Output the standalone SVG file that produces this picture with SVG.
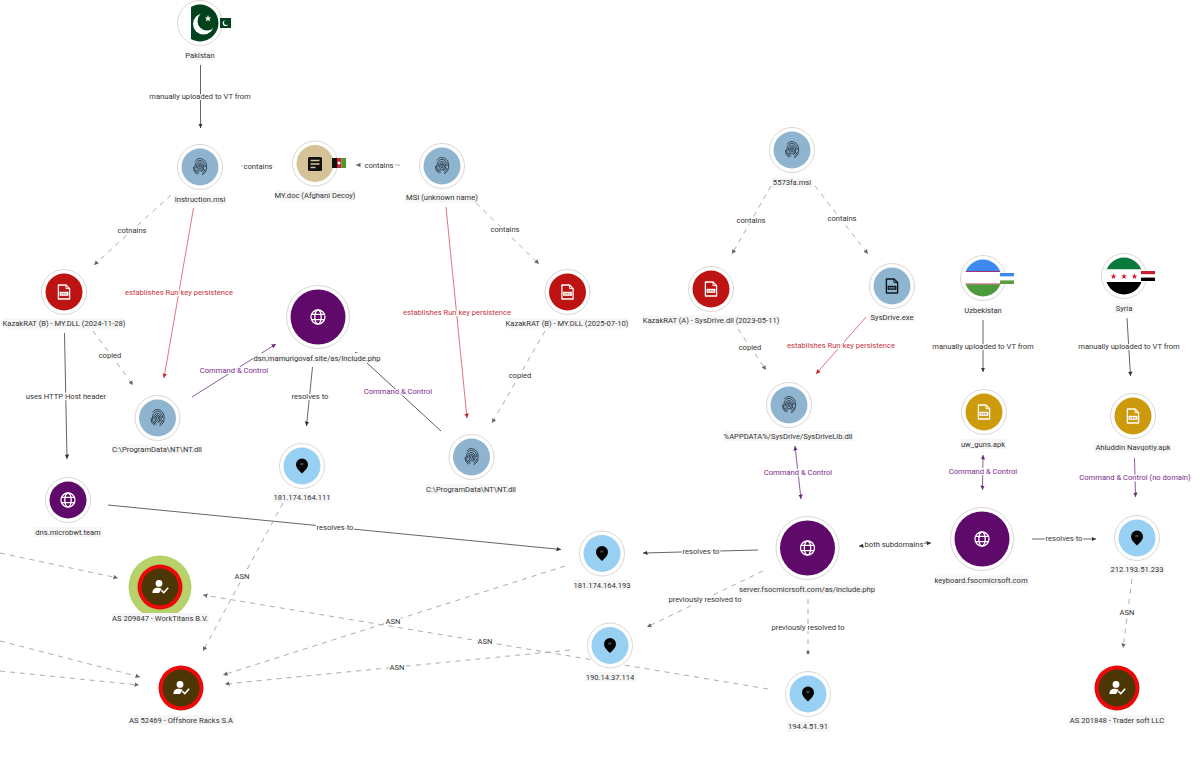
<svg xmlns="http://www.w3.org/2000/svg" width="1200" height="763" viewBox="0 0 1200 763">
<style>
text{font-family:Roboto,"Liberation Sans",sans-serif;font-size:7.6px;text-anchor:middle;fill:#333}
.ring{fill:#fff;stroke:#ddd6d6;stroke-width:1}
.lb{fill:#f6f6f6}
.e{fill:none;stroke-width:1}
.s{stroke:#666;marker-end:url(#ad)}
.d{stroke:#adadad;stroke-dasharray:5 5;marker-end:url(#ag)}
.r{stroke:#e0767e;marker-end:url(#ar)}
.p{stroke:#8a5f98;marker-end:url(#ap)}
.pp{stroke:#8a5f98;marker-end:url(#ap);marker-start:url(#ap)}
.ss{stroke:#666;marker-end:url(#ad);marker-start:url(#ad)}
.el{paint-order:stroke;stroke:#fff;stroke-width:2.4px;stroke-linejoin:round}
.red{fill:#c8323c}
.pur{fill:#7b2a8c}
.fp{fill:none;stroke:#15202b;stroke-width:.75}
.gl{fill:none;stroke:#fff;stroke-width:1.3}
</style>
<defs>
<marker id="ad" markerWidth="6" markerHeight="6" refX="4.500" refY="2.500" orient="auto-start-reverse" markerUnits="userSpaceOnUse"><path d="M0 .3L4.500 2.500L0 4.700z" fill="#333"/></marker>
<marker id="ag" markerWidth="6" markerHeight="6" refX="4.500" refY="2.500" orient="auto-start-reverse" markerUnits="userSpaceOnUse"><path d="M0 .3L4.500 2.500L0 4.700z" fill="#666"/></marker>
<marker id="ar" markerWidth="6" markerHeight="6" refX="4.500" refY="2.500" orient="auto-start-reverse" markerUnits="userSpaceOnUse"><path d="M0 .3L4.500 2.500L0 4.700z" fill="#c8202c"/></marker>
<marker id="ap" markerWidth="6" markerHeight="6" refX="4.500" refY="2.500" orient="auto-start-reverse" markerUnits="userSpaceOnUse"><path d="M0 .3L4.500 2.500L0 4.700z" fill="#6e2a80"/></marker>
<g id="fp" class="fp">
<path d="M-5 -5.600A6.600 8 0 0 1 6.600 0A6.600 8 0 0 1 2 7.700M-3 7.400A6.600 8 0 0 1 -6.600 0"/>
<path d="M5.200 0A5.200 6.600 0 0 0 -5.200 0V2.600A5.200 6.600 0 0 0 -1 6.400M2.200 6.200A5.200 6.600 0 0 0 5.200 2"/>
<path d="M-3.800 1A3.800 5 0 0 1 3.800 0A3.800 5 0 0 1 1.200 4.800M-1.400 4.800A3.800 5 0 0 1 -3.800 2.600"/>
<path d="M-2.400 .5A2.400 3.400 0 1 1 2.400 .5A2.400 3.400 0 0 1 -2.400 .5"/>
<path d="M-1 .2A1 1.800 0 1 1 1 .2A1 1.800 0 0 1 -1 .2"/>
</g>
<g id="gl" class="gl">
<circle r="7"/><ellipse rx="3.200" ry="7"/><path d="M-6.400 -2.600H6.400M-6.400 2.600H6.400"/>
</g>
<g id="pin"><path d="M0 7.600C-2 5-6 2.600-6-1.600A6 6 0 0 1 6-1.600C6 2.600 2 5 0 7.600z" fill="#050505"/><rect x="-1.800" y="-3" width="3.200" height="2" fill="#3c4a50"/></g>
<g id="usr" fill="#fff">
<circle cx="-1" cy="-3.600" r="3.400"/>
<path d="M-7.600 6C-7.400 2-5.500 .6-1.400 .8C.2 .9 1 1.400 1.600 2L-1 6z"/>
<path d="M1.400 3.400L3.800 5.600L8.200 .8" fill="none" stroke="#fff" stroke-width="1.600"/>
</g>
<g id="doc-w">
<path d="M-5.600 -7H2L5.600 -3.400V7H-5.600z" fill="none" stroke="#fff" stroke-width="1.300" stroke-linejoin="round"/>
<path d="M2 -7V-3.400H5.600" fill="none" stroke="#fff" stroke-width="1"/>
<rect x="-4.400" y="-.2" width="8.800" height="4" fill="#fff"/>
<path d="M-3.200 1.800H3.200" stroke="#c9764a" stroke-width="1.200" stroke-dasharray="1.600 .6"/>
</g>
<g id="doc-k">
<path d="M-5.600 -7H2L5.600 -3.400V7H-5.600z" fill="none" stroke="#0c1620" stroke-width="1.400" stroke-linejoin="round"/>
<path d="M2 -7V-3.400H5.600" fill="none" stroke="#0c1620" stroke-width="1"/>
<rect x="-4.400" y="-.2" width="8.800" height="4" fill="#0c1620"/>
<path d="M-3.200 1.800H3.200" stroke="#8fb4cf" stroke-width="1.200" stroke-dasharray="1.600 .6"/>
</g>
<clipPath id="cc"><circle r="18.500"/></clipPath>
</defs>
<rect width="1200" height="763" fill="#fff"/>

<g id="connectors">
<path class="e s" d="M200.500 65V128"/>
<path class="e d" d="M241 166H274" style="marker-end:none"/>
<path class="e d" d="M400 165H356"/>
<path class="e d" d="M171 195L94 265"/>
<path class="e r" d="M193.500 208L164 378"/>
<path class="e d" d="M93 331L133 385"/>
<path class="e s" d="M64.500 333L67 459"/>
<path class="e p" d="M192 397L276 344"/>
<path class="e s" d="M312.500 367L306.500 426"/>
<path class="e p" d="M441 431L355 352" style="stroke:#6a5272"/>
<path class="e r" d="M446 207L467 418"/>
<path class="e d" d="M476 203L539 264"/>
<path class="e d" d="M545 331L492 423"/>
<path class="e d" d="M771 186L732 254"/>
<path class="e d" d="M815 186L868 254"/>
<path class="e d" d="M738 329L766 370"/>
<path class="e r" d="M866 317L816 374"/>
<path class="e pp" d="M795 446L801 499"/>
<path class="e s" d="M983 320V372"/>
<path class="e s" d="M1127 318L1130.500 376"/>
<path class="e pp" d="M983 455L982.500 490"/>
<path class="e p" d="M1134.500 458L1135.500 497"/>
<path class="e s" d="M758 550L643 553"/>
<path class="e s" d="M108 505L561 549.500"/>
<path class="e ss" d="M859 546L931 543"/>
<path class="e s" d="M1032 539H1096"/>
<path class="e d" d="M1132 579L1123 648"/>
<path class="e d" d="M763 571L647 627"/>
<path class="e d" d="M808 599V655"/>
<path class="e d" d="M283 503L203 651"/>
<path class="e d" d="M565 566L223 675"/>
<path class="e d" d="M570 650L225 684"/>
<path class="e d" d="M768 689L203 595"/>
<path class="e d" d="M0 553L118 578"/>
<path class="e d" d="M0 641L140 677"/>
<path class="e d" d="M0 671L139 685"/>
</g>

<g id="edge-labels">
<text class="el" x="200" y="98.700">manually uploaded to VT from</text>
<text class="el" x="258" y="168.700">contains</text>
<text class="el" x="379" y="167.700">contains</text>
<text class="el" x="132" y="232.700">cotnains</text>
<text class="el red" x="179" y="294.700">establishes Run key persistence</text>
<text class="el" x="110" y="357.700">copied</text>
<text class="el" x="66" y="398.700">uses HTTP Host header</text>
<text class="el pur" x="234" y="372.700">Command &amp; Control</text>
<text class="el" x="310" y="398.700">resolves to</text>
<text class="el pur" x="398" y="393.700">Command &amp; Control</text>
<text class="el red" x="457" y="314.700">establishes Run key persistence</text>
<text class="el" x="505" y="231.700">contains</text>
<text class="el" x="520" y="377.700">copied</text>
<text class="el" x="751" y="222.700">contains</text>
<text class="el" x="842" y="220.700">contains</text>
<text class="el" x="750" y="349.700">copied</text>
<text class="el red" x="841" y="347.700">establishes Run key persistence</text>
<text class="el pur" x="798" y="474.700">Command &amp; Control</text>
<text class="el" x="983" y="348.700">manually uploaded to VT from</text>
<text class="el" x="1129" y="348.700">manually uploaded to VT from</text>
<text class="el pur" x="983" y="474.200">Command &amp; Control</text>
<text class="el pur" x="1135" y="479.700">Command &amp; Control (no domain)</text>
<text class="el" x="701" y="554.200">resolves to</text>
<text class="el" x="335" y="529.700">resolves to</text>
<text class="el" x="894" y="546.700">both subdomains</text>
<text class="el" x="1064" y="541.200">resolves to</text>
<text class="el" x="1127" y="614.700">ASN</text>
<text class="el" x="705" y="601.700">previously resolved to</text>
<text class="el" x="808" y="629.700">previously resolved to</text>
<text class="el" x="242" y="578.700">ASN</text>
<text class="el" x="393" y="623.700">ASN</text>
<text class="el" x="397" y="669.700">ASN</text>
<text class="el" x="485" y="643.700">ASN</text>
</g>

<g id="n-pakistan">
<circle class="ring" cx="200" cy="23" r="22.500"/>
<g transform="translate(200 23)" clip-path="url(#cc)">
<rect x="-9" y="-19" width="28" height="38" fill="#01411c"/>
<circle cx="3.500" cy="1" r="10.500" fill="#fff"/><circle cx="7" cy="-2" r="9.500" fill="#01411c"/>
<path d="M8 -8L8.900 -5.600L11.400 -5.500L9.400 -4L10.100 -1.600L8 -3L5.900 -1.600L6.600 -4L4.600 -5.500L7.100 -5.600z" fill="#fff"/>
</g>
<rect x="220" y="18" width="11" height="10" fill="#01411c"/>
<circle cx="225.500" cy="23.300" r="2.800" fill="#fff"/><circle cx="226.500" cy="22.600" r="2.500" fill="#01411c"/>
<rect class="lb" x="185" y="50.500" width="30" height="10"/><text x="200" y="58.300">Pakistan</text>
</g>

<g id="n-instruction">
<circle class="ring" cx="200" cy="167" r="22.500"/><circle cx="200" cy="167" r="18.500" fill="#8fb4cf"/>
<use href="#fp" x="200" y="167"/>
<rect class="lb" x="174" y="194.500" width="52" height="10"/><text x="200" y="202.300">Instruction.msi</text>
</g>

<g id="n-mydoc">
<circle class="ring" cx="315" cy="163.500" r="22.500"/><circle cx="315" cy="163.500" r="18.500" fill="#d5c397"/>
<rect x="308" y="157" width="14" height="14" rx="1.500" fill="#111"/>
<path d="M310.500 160.500H319.500M310.500 164H319.500M310.500 167.500H315.500" stroke="#d5c397" stroke-width="1.400"/>
<rect x="332" y="158" width="5" height="10" fill="#111"/><rect x="337" y="158" width="4.500" height="10" fill="#c8202c"/><rect x="341.500" y="158" width="4.500" height="10" fill="#4c9a2a"/>
<circle cx="339" cy="163" r="1.500" fill="#fff"/>
<rect class="lb" x="275" y="190.500" width="80" height="10"/><text x="315" y="198.300">MY.doc (Afghani Decoy)</text>
</g>

<g id="n-msi">
<circle class="ring" cx="442" cy="166" r="22.500"/><circle cx="442" cy="166" r="18.500" fill="#8fb4cf"/>
<use href="#fp" x="442" y="166"/>
<rect class="lb" x="405" y="192.500" width="74" height="10"/><text x="442" y="200.300">MSI (unknown name)</text>
</g>

<g id="n-kazak-b-2024">
<circle class="ring" cx="64" cy="292" r="22.500"/><circle cx="64" cy="292" r="18.500" fill="#bd1313"/>
<use href="#doc-w" x="64" y="292"/>
<rect class="lb" x="3" y="318.500" width="122" height="10"/><text x="64" y="326.300">KazakRAT (B) - MY.DLL (2024-11-28)</text>
</g>

<g id="n-dsn">
<circle class="ring" cx="318" cy="317" r="31.500"/><circle cx="318" cy="317" r="27.500" fill="#5f0a6a"/>
<use href="#gl" x="318" y="317"/>
<rect class="lb" x="253" y="353" width="128" height="10"/><text x="317" y="360.800">dsn.mamurigovaf.site/as/include.php</text>
</g>

<g id="n-ntdll-left">
<circle class="ring" cx="157.500" cy="418" r="22.500"/><circle cx="157.500" cy="418" r="18.500" fill="#8fb4cf"/>
<use href="#fp" x="157.500" y="418"/>
<rect class="lb" x="112" y="444.500" width="90" height="10"/><text x="157" y="452.300">C:\ProgramData\NT\NT.dll</text>
</g>

<g id="n-ip-111">
<circle class="ring" cx="302" cy="466" r="22.500"/><circle cx="302" cy="466" r="18.500" fill="#98d0f3"/>
<use href="#pin" x="302" y="466"/>
<rect class="lb" x="273" y="492.500" width="58" height="10"/><text x="302" y="500.300">181.174.164.111</text>
</g>

<g id="n-dns">
<circle class="ring" cx="68" cy="500" r="22.500"/><circle cx="68" cy="500" r="18.500" fill="#5f0a6a"/>
<use href="#gl" x="68" y="500"/>
<rect class="lb" x="34" y="527" width="68" height="10"/><text x="68" y="534.800">dns.microbwt.team</text>
</g>

<g id="n-as209847">
<circle cx="160" cy="587" r="31.500" fill="#b7d16b"/><circle cx="160" cy="587" r="22.500" fill="#ea0a0a"/><circle cx="160" cy="587" r="18.500" fill="#4d3606"/>
<use href="#usr" x="160" y="587"/>
<rect class="lb" x="112" y="613" width="97" height="10"/><text x="160" y="620.800">AS 209847 - WorkTitans B.V.</text>
</g>

<g id="n-as52469">
<circle cx="181" cy="688" r="22.500" fill="#ea0a0a"/><circle cx="181" cy="688" r="18.500" fill="#4d3606"/>
<use href="#usr" x="181" y="688"/>
<rect class="lb" x="130" y="715" width="105" height="10"/><text x="181" y="722.800">AS 52469 - Offshore Racks S.A</text>
</g>

<g id="n-ntdll-right">
<circle class="ring" cx="471.500" cy="457" r="22.500"/><circle cx="471.500" cy="457" r="18.500" fill="#8fb4cf"/>
<use href="#fp" x="471.500" y="457"/>
<rect class="lb" x="426" y="484" width="90" height="10"/><text x="471" y="491.800">C:\ProgramData\NT\NT.dll</text>
</g>

<g id="n-kazak-b-2025">
<circle class="ring" cx="567.500" cy="292" r="22.500"/><circle cx="567.500" cy="292" r="18.500" fill="#bd1313"/>
<use href="#doc-w" x="567.500" y="292"/>
<rect class="lb" x="506" y="318.500" width="122" height="10"/><text x="567" y="326.300">KazakRAT (B) - MY.DLL (2025-07-10)</text>
</g>

<g id="n-5573fa">
<circle class="ring" cx="792" cy="150" r="22.500"/><circle cx="792" cy="150" r="18.500" fill="#8fb4cf"/>
<use href="#fp" x="792" y="150"/>
<rect class="lb" x="772" y="177.500" width="40" height="10"/><text x="792" y="185.300">5573fa.msi</text>
</g>

<g id="n-kazak-a">
<circle class="ring" cx="711" cy="289" r="22.500"/><circle cx="711" cy="289" r="18.500" fill="#bd1313"/>
<use href="#doc-w" x="711" y="289"/>
<rect class="lb" x="643" y="315.500" width="137" height="10"/><text x="711" y="323.300">KazakRAT (A) - SysDrive.dll (2023-05-11)</text>
</g>

<g id="n-sysdrive">
<circle class="ring" cx="892" cy="286" r="22.500"/><circle cx="892" cy="286" r="18.500" fill="#8fb4cf"/>
<use href="#doc-k" x="892" y="286"/>
<rect class="lb" x="869" y="312" width="46" height="10"/><text x="892" y="319.800">SysDrive.exe</text>
</g>

<g id="n-appdata">
<circle class="ring" cx="789" cy="405" r="22.500"/><circle cx="789" cy="405" r="18.500" fill="#8fb4cf"/>
<use href="#fp" x="789" y="405"/>
<rect class="lb" x="724" y="431" width="129" height="10"/><text x="788" y="438.800">%APPDATA%/SysDrive/SysDriveLib.dll</text>
</g>

<g id="n-uzbekistan">
<circle class="ring" cx="983" cy="278" r="22.500"/>
<g transform="translate(983 278)" clip-path="url(#cc)">
<rect x="-19" y="-19" width="38" height="12" fill="#3f88f0"/>
<rect x="-19" y="-7" width="38" height="1.200" fill="#a03070"/>
<rect x="-19" y="-6" width="38" height="12" fill="#fff"/>
<rect x="-19" y="5.500" width="38" height="1.200" fill="#c04060"/>
<rect x="-19" y="6.500" width="38" height="13" fill="#4c9a3c"/>
</g>
<rect x="1000" y="273" width="14" height="3.600" fill="#3f88f0"/><rect x="1000" y="276.600" width="14" height="3.800" fill="#fff"/><rect x="1000" y="280.400" width="14" height="3.600" fill="#5a9e3c"/>
<rect class="lb" x="965" y="305.500" width="36" height="10"/><text x="983" y="313.300">Uzbekistan</text>
</g>

<g id="n-syria">
<circle class="ring" cx="1124" cy="276" r="22.500"/>
<g transform="translate(1124 276)" clip-path="url(#cc)">
<rect x="-19" y="-19" width="38" height="12.500" fill="#0b7a3e"/>
<rect x="-19" y="-6.500" width="38" height="12.500" fill="#fff"/>
<rect x="-19" y="6" width="38" height="13" fill="#000"/>
<path d="M-10.500 -2.700L-8.700 2.900L-13.400 -.5H-7.600L-12.300 2.900zM0 -2.700L1.800 2.900L-2.900 -.5H2.900L-1.800 2.900zM10.500 -2.700L12.300 2.900L7.600 -.5H13.400L8.700 2.900z" fill="#d8122a"/>
</g>
<rect x="1141" y="271" width="14" height="3.400" fill="#c8202c"/><rect x="1141" y="274.400" width="14" height="3.200" fill="#fff"/><rect x="1141" y="277.600" width="14" height="3.400" fill="#000"/>
<rect class="lb" x="1114" y="303" width="20" height="10"/><text x="1124" y="310.800">Syria</text>
</g>

<g id="n-uw-guns">
<circle class="ring" cx="984" cy="412" r="22.500"/><circle cx="984" cy="412" r="18.500" fill="#cc9a0a"/>
<use href="#doc-w" x="984" y="412"/>
<rect class="lb" x="960" y="439" width="46" height="10"/><text x="983" y="446.800">uw_guns.apk</text>
</g>

<g id="n-ahluddin">
<circle class="ring" cx="1133" cy="416" r="22.500"/><circle cx="1133" cy="416" r="18.500" fill="#cc9a0a"/>
<use href="#doc-w" x="1133" y="416"/>
<rect class="lb" x="1094" y="442.500" width="76" height="10"/><text x="1133" y="450.300">Ahluddin Navqotiy.apk</text>
</g>

<g id="n-ip-193">
<circle class="ring" cx="602" cy="553.500" r="22.500"/><circle cx="602" cy="553.500" r="18.500" fill="#98d0f3"/>
<use href="#pin" x="602" y="553.500"/>
<rect class="lb" x="573" y="580" width="58" height="10"/><text x="602" y="587.800">181.174.164.193</text>
</g>

<g id="n-server">
<circle class="ring" cx="807.500" cy="548" r="31.500"/><circle cx="807.500" cy="548" r="27.500" fill="#5f0a6a"/>
<use href="#gl" x="807.500" y="548"/>
<rect class="lb" x="739" y="584.500" width="136" height="10"/><text x="807" y="592.300">server.fsocmicrsoft.com/as/include.php</text>
</g>

<g id="n-keyboard">
<circle class="ring" cx="982" cy="539" r="31.500"/><circle cx="982" cy="539" r="27.500" fill="#5f0a6a"/>
<use href="#gl" x="982" y="539"/>
<rect class="lb" x="935" y="575.500" width="94" height="10"/><text x="981" y="583.300">keyboard.fsocmicrsoft.com</text>
</g>

<g id="n-ip-233">
<circle class="ring" cx="1137" cy="538" r="22.500"/><circle cx="1137" cy="538" r="18.500" fill="#98d0f3"/>
<use href="#pin" x="1137" y="538"/>
<rect class="lb" x="1109" y="564.500" width="56" height="10"/><text x="1137" y="572.300">212.193.51.233</text>
</g>

<g id="n-ip-114">
<circle class="ring" cx="610" cy="645.500" r="22.500"/><circle cx="610" cy="645.500" r="18.500" fill="#98d0f3"/>
<use href="#pin" x="610" y="645.500"/>
<rect class="lb" x="584" y="672" width="52" height="10"/><text x="610" y="679.800">190.14.37.114</text>
</g>

<g id="n-ip-91">
<circle class="ring" cx="808" cy="694" r="22.500"/><circle cx="808" cy="694" r="18.500" fill="#98d0f3"/>
<use href="#pin" x="808" y="694"/>
<rect class="lb" x="787" y="721.500" width="42" height="10"/><text x="808" y="729.300">194.4.51.91</text>
</g>

<g id="n-as201848">
<circle cx="1117" cy="688" r="22.500" fill="#ea0a0a"/><circle cx="1117" cy="688" r="18.500" fill="#4d3606"/>
<use href="#usr" x="1117" y="688"/>
<rect class="lb" x="1069" y="715" width="97" height="10"/><text x="1117" y="722.800">AS 201848 - Trader soft LLC</text>
</g>
</svg>
